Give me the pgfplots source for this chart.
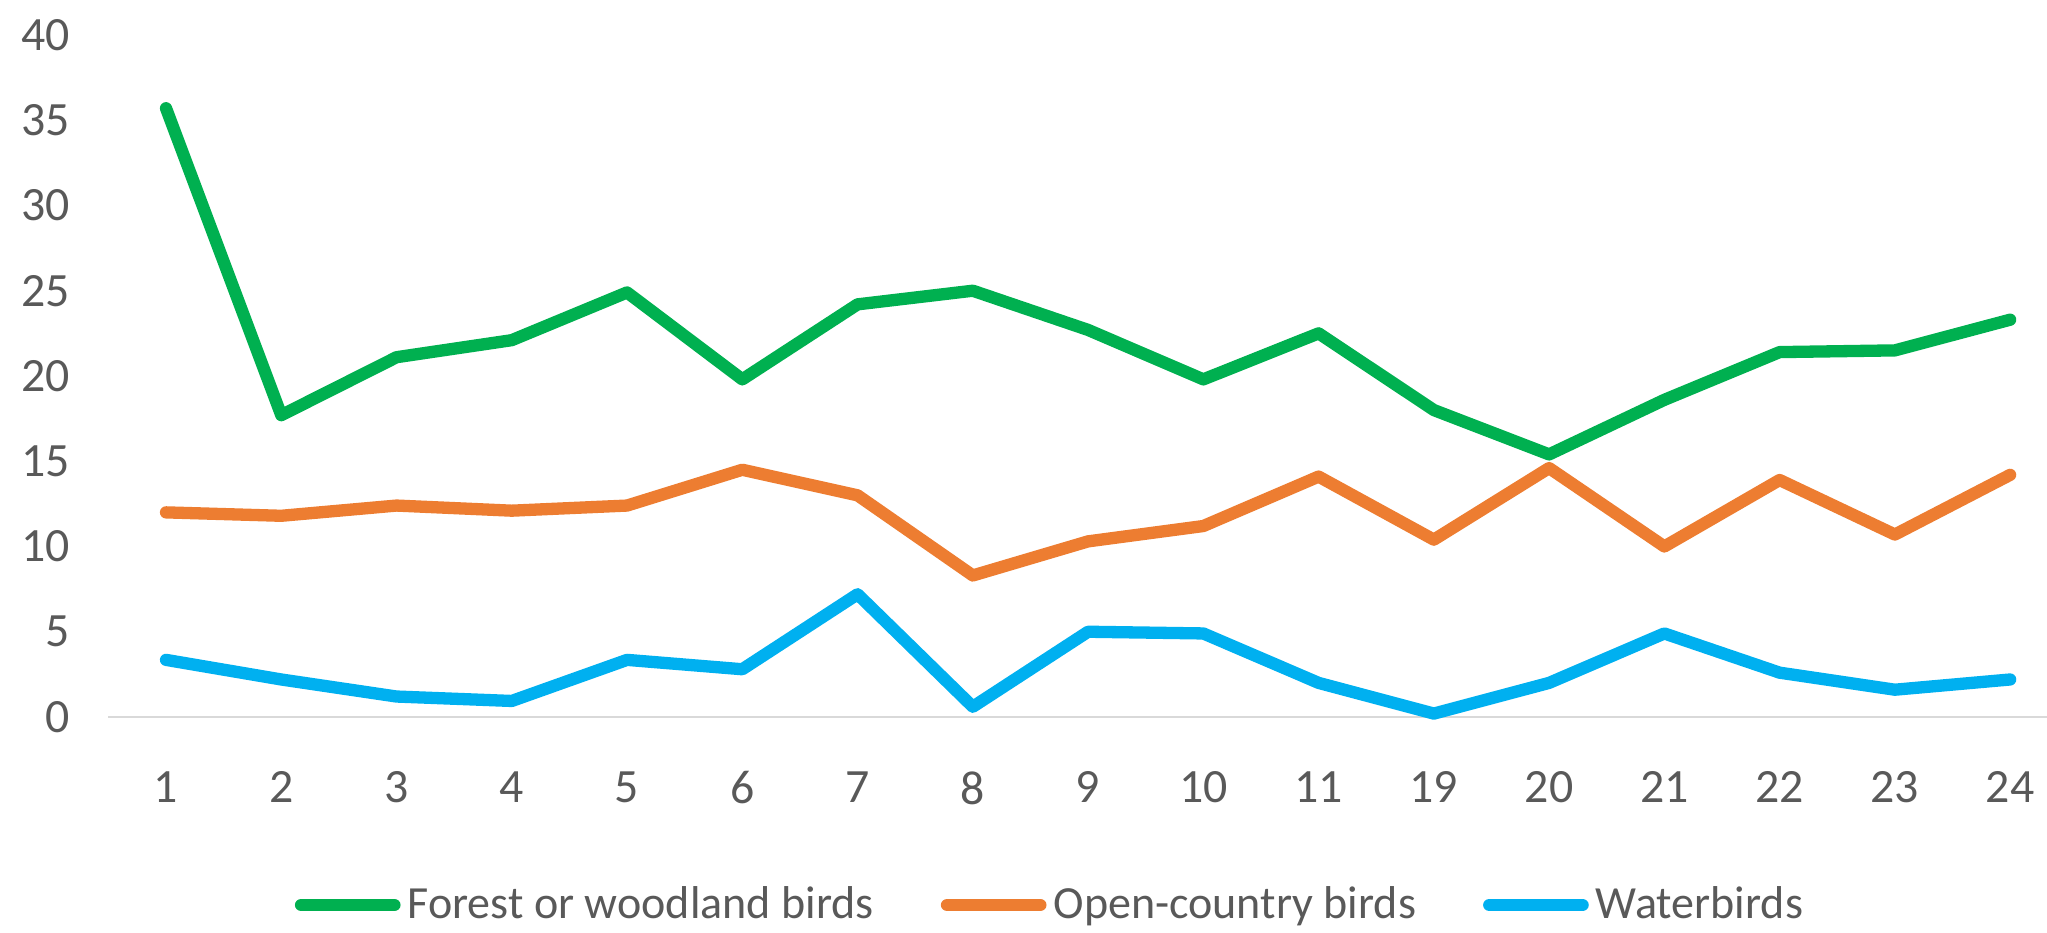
\documentclass[border=0pt]{standalone}
\usepackage{pgfplots}
\pgfplotsset{compat=1.18}
\usepackage{fontspec}
\setmainfont{Carlito}
\definecolor{cgreen}{HTML}{00B050}
\definecolor{corange}{HTML}{ED7D31}
\definecolor{cblue}{HTML}{00B0F0}
\definecolor{ctext}{HTML}{595959}
\definecolor{caxis}{HTML}{D9D9D9}
\begin{document}
\begin{tikzpicture}
\begin{axis}[
  scale only axis,
  width=193.86mm, height=71.7mm,
  xmin=-0.5, xmax=16.32,
  ymin=0, ymax=42.05,
  xtick={0,1,...,16},
  xticklabels={1,2,3,4,5,6,7,8,9,10,11,19,20,21,22,23,24},
  ytick={0,5,...,40},
  separate axis lines,
  axis x line*=bottom,
  axis y line*=left,
  x axis line style={draw=caxis, line width=0.85pt, -},
  y axis line style={draw=none},
  major tick length=0pt,
  tick style={draw=none},
  /pgf/number format/assume math mode=true,
  ticklabel style={font=\fontsize{13.6}{16}\selectfont, text=ctext},
  yticklabel style={xshift=-2.6mm},
  xticklabel style={yshift=-4.2mm},
  clip=false,
  legend columns=3,
  legend style={at={(0.487,0)}, anchor=center, yshift=-18.8mm, draw=none, fill=none,
    font=\fontsize{13.1}{16}\selectfont, text=ctext,
    /tikz/every even column/.append style={column sep=6mm}},
  legend image code/.code={\draw[#1, line width=3.6pt, line cap=round] (0.3mm,0mm) -- (9.6mm,0mm);},
  every axis plot/.append style={line width=3.5pt, line join=round, line cap=round, mark=none},
]
\coordinate (sw) at (rel axis cs:0,0);
\addplot[cgreen] coordinates {
(0,35.7) (1,17.7) (2,21.1) (3,22.1) (4,24.9) (5,19.8) (6,24.2) (7,25.0) (8,22.7)
(9,19.8) (10,22.5) (11,18.0) (12,15.4) (13,18.6) (14,21.4) (15,21.5) (16,23.3)};
\addlegendentry{Forest or woodland birds}
\addplot[corange] coordinates {
(0,12.0) (1,11.8) (2,12.4) (3,12.1) (4,12.4) (5,14.5) (6,13.0) (7,8.3) (8,10.3)
(9,11.2) (10,14.1) (11,10.4) (12,14.6) (13,10.0) (14,13.9) (15,10.7) (16,14.2)};
\addlegendentry{Open-country birds}
\addplot[cblue] coordinates {
(0,3.35) (1,2.2) (2,1.2) (3,0.94) (4,3.35) (5,2.8) (6,7.2) (7,0.6) (8,5.0)
(9,4.9) (10,2.0) (11,0.2) (12,2.0) (13,4.9) (14,2.6) (15,1.6) (16,2.2)};
\addlegendentry{Waterbirds}
\end{axis}
\pgfresetboundingbox
\path ([shift={(-10.84mm,-21.6mm)}]sw) rectangle ([shift={(193.86mm,71.7mm)}]sw);
\end{tikzpicture}
\end{document}
